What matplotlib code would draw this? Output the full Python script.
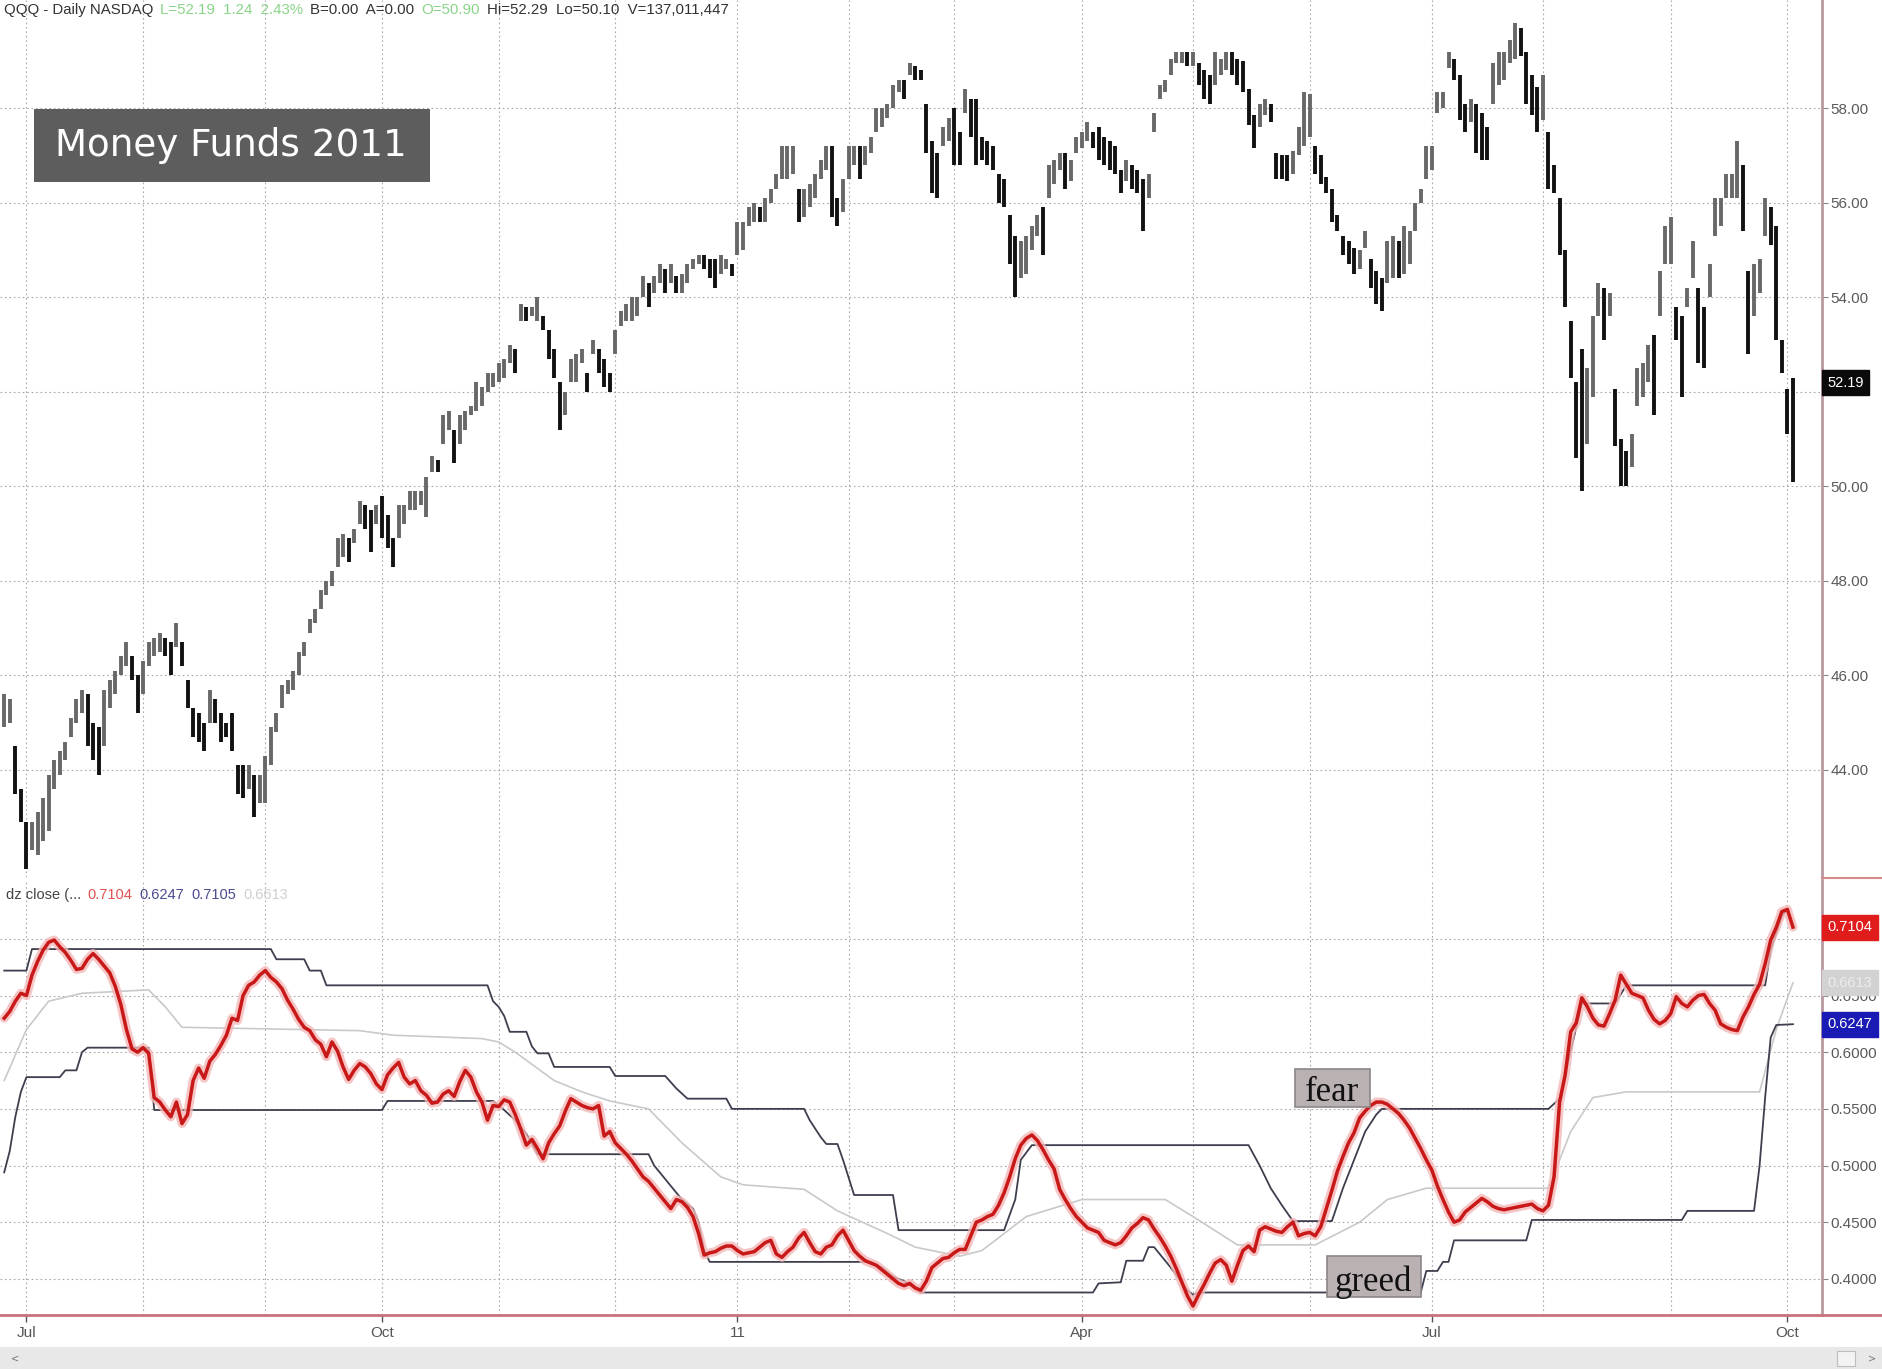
"""QQQ daily bars (Jun 2010 - Oct 2011) with the 'dz close' fear/greed panel."""
import numpy as np
import pandas as pd
import matplotlib

matplotlib.use("Agg")
import matplotlib.pyplot as plt  # noqa: E402
import matplotlib.transforms as mtransforms  # noqa: E402
from matplotlib import font_manager  # noqa: E402
from matplotlib.lines import Line2D  # noqa: E402
from matplotlib.patches import Rectangle  # noqa: E402

FIRST_DAY = "2010-06-25"
LAST_DAY = "2011-10-04"
HOLIDAYS = ["2010-07-05", "2010-09-06", "2010-11-25", "2010-12-24", "2011-01-17",
            "2011-02-21", "2011-04-22", "2011-05-30", "2011-07-04", "2011-09-05"]

# daily low / high, one value per trading day
PRICE_LO = [
    44.9, 45.0, 43.5, 42.9,
    # Jul 2010
    41.9, 42.3, 42.2, 42.5, 42.7, 43.6, 43.9, 44.2, 44.7, 45.0, 45.2, 44.5, 44.2, 43.9,
    44.5, 45.3, 45.6, 46.0, 46.2, 45.9, 45.2,
    # Aug
    45.6, 46.2, 46.4, 46.5, 46.4, 46.0, 46.6, 46.2, 45.3, 44.7, 44.6, 44.4, 45.0, 45.0,
    44.6, 44.7, 44.4, 43.5, 43.4, 43.6, 43.0, 43.3,
    # Sep
    43.3, 44.1, 44.8, 45.3, 45.6, 45.7, 46.0, 46.4, 46.9, 47.1, 47.4, 47.7, 47.9, 48.3,
    48.5, 48.4, 48.8, 49.2, 49.1, 48.6, 49.2,
    # Oct
    48.9, 48.7, 48.3, 48.9, 49.2, 49.5, 49.5, 49.6, 49.35, 50.3, 50.3, 50.9, 51.2, 50.5,
    50.9, 51.2, 51.5, 51.6, 51.7, 52.0, 52.1,
    # Nov
    52.2, 52.3, 52.6, 52.4, 53.5, 53.5, 53.6, 53.5, 53.3, 52.7, 52.3, 51.2, 51.5, 52.2,
    52.2, 52.6, 52.0, 52.8, 52.4, 52.1, 52.0,
    # Dec
    52.8, 53.4, 53.5, 53.5, 53.6, 54.0, 53.8, 54.1, 54.3, 54.1, 54.3, 54.1, 54.1, 54.3,
    54.6, 54.7, 54.6, 54.4, 54.2, 54.5, 54.6, 54.45,
    # Jan 2011
    54.9, 55.0, 55.5, 55.6, 55.6, 55.6, 56.0, 56.3, 56.5, 56.5, 56.6, 55.6, 55.7, 55.9,
    56.1, 56.5, 56.7, 55.7, 55.5, 55.8,
    # Feb
    56.5, 56.8, 56.5, 56.8, 57.05, 57.5, 57.6, 57.8, 58.0, 58.35, 58.2, 58.7, 58.6, 58.6,
    57.05, 56.2, 56.1, 57.2, 57.3,
    # Mar
    56.8, 56.8, 57.9, 57.4, 56.8, 56.9, 56.8, 56.7, 56.0, 55.9, 54.7, 54.0, 54.4, 54.5,
    55.0, 55.3, 54.9, 56.1, 56.4, 56.7, 56.3, 56.45, 57.05,
    # Apr
    57.15, 57.3, 57.15, 56.9, 56.8, 56.7, 56.6, 56.2, 56.45, 56.3, 56.2, 55.4, 56.1, 57.5,
    58.2, 58.35, 58.7, 58.95, 58.95, 58.9,
    # May
    58.9, 58.5, 58.2, 58.1, 58.5, 58.7, 58.8, 58.7, 58.5, 58.35, 57.65, 57.15, 57.6, 57.85,
    57.7, 56.5, 56.5, 56.45, 56.6, 57.0, 57.2,
    # Jun
    57.4, 56.6, 56.4, 56.2, 55.6, 55.4, 54.9, 54.7, 54.5, 54.6, 55.05, 54.2, 53.85, 53.7,
    54.3, 54.4, 54.4, 54.5, 54.7, 55.4, 56.0, 56.5,
    # Jul
    56.7, 57.9, 58.0, 58.85, 58.6, 57.75, 57.5, 57.7, 57.05, 56.9, 56.9, 58.1, 58.5, 58.6,
    58.95, 59.05, 59.1, 58.1, 57.85, 57.5,
    # Aug
    57.75, 56.3, 56.2, 54.9, 53.8, 52.3, 50.6, 49.9, 50.9, 51.9, 53.6, 53.1, 53.6, 50.85,
    50.0, 50.0, 50.4, 51.7, 51.9, 52.2, 51.5, 53.6, 54.7,
    # Sep
    54.7, 53.1, 51.9, 53.8, 54.4, 52.6, 52.5, 54.0, 55.3, 55.5, 56.1, 56.1, 56.1, 55.4,
    52.8, 53.6, 54.1, 55.3, 55.1, 53.1, 52.4,
    # Oct
    51.1, 50.10,
]
PRICE_HI = [
    45.6, 45.5, 44.5, 43.6,
    # Jul 2010
    42.9, 42.9, 43.1, 43.4, 43.9, 44.2, 44.4, 44.6, 45.1, 45.5, 45.7, 45.6, 45.0, 44.9,
    45.7, 45.9, 46.1, 46.4, 46.7, 46.4, 46.0,
    # Aug
    46.3, 46.7, 46.8, 46.9, 46.8, 46.7, 47.1, 46.7, 45.9, 45.3, 45.2, 45.0, 45.7, 45.5,
    45.2, 45.0, 45.2, 44.1, 44.1, 44.1, 43.9, 43.9,
    # Sep
    44.3, 44.9, 45.2, 45.8, 45.9, 46.1, 46.5, 46.7, 47.2, 47.4, 47.8, 48.0, 48.2, 48.9,
    49.0, 48.9, 49.1, 49.7, 49.6, 49.5, 49.6,
    # Oct
    49.8, 49.4, 48.9, 49.6, 49.6, 49.9, 49.9, 49.9, 50.2, 50.65, 50.55, 51.5, 51.6, 51.2,
    51.5, 51.6, 51.7, 52.2, 52.1, 52.4, 52.4,
    # Nov
    52.6, 52.7, 53.0, 52.9, 53.85, 53.8, 53.8, 54.0, 53.6, 53.3, 52.9, 52.2, 52.0, 52.7,
    52.8, 52.9, 52.4, 53.1, 52.9, 52.7, 52.4,
    # Dec
    53.3, 53.7, 53.85, 54.0, 54.0, 54.45, 54.3, 54.45, 54.7, 54.6, 54.7, 54.45, 54.5, 54.7,
    54.8, 54.9, 54.9, 54.8, 54.8, 54.9, 54.8, 54.7,
    # Jan 2011
    55.6, 55.6, 55.9, 56.0, 55.9, 56.1, 56.3, 56.6, 57.2, 57.2, 57.2, 56.3, 56.3, 56.4,
    56.6, 56.9, 57.2, 57.2, 56.1, 56.5,
    # Feb
    57.2, 57.2, 57.2, 57.2, 57.4, 58.0, 58.0, 58.1, 58.5, 58.6, 58.6, 58.95, 58.9, 58.8,
    58.1, 57.3, 57.05, 57.6, 57.8,
    # Mar
    58.0, 57.5, 58.4, 58.2, 58.2, 57.4, 57.3, 57.2, 56.6, 56.5, 55.75, 55.3, 55.2, 55.3,
    55.5, 55.75, 55.9, 56.8, 56.9, 57.05, 57.05, 56.9, 57.4,
    # Apr
    57.5, 57.7, 57.5, 57.6, 57.4, 57.3, 57.2, 56.7, 56.9, 56.8, 56.7, 56.5, 56.6, 57.9,
    58.5, 58.6, 59.05, 59.2, 59.2, 59.2,
    # May
    59.2, 58.95, 58.8, 58.7, 59.2, 59.05, 59.2, 59.2, 59.05, 59.0, 58.4, 57.85, 58.1, 58.2,
    58.1, 57.05, 57.0, 57.0, 57.1, 57.6, 58.35,
    # Jun
    58.3, 57.2, 57.0, 56.55, 56.3, 55.75, 55.3, 55.2, 55.05, 55.0, 55.4, 54.8, 54.55, 54.4,
    55.2, 55.3, 55.2, 55.5, 55.4, 56.0, 56.3, 57.2,
    # Jul
    57.2, 58.35, 58.35, 59.2, 59.05, 58.7, 58.1, 58.2, 58.1, 57.9, 57.6, 58.95, 59.2, 59.2,
    59.45, 59.8, 59.7, 59.2, 58.7, 58.45,
    # Aug
    58.7, 57.5, 56.8, 56.1, 55.0, 53.5, 52.2, 52.9, 52.5, 53.6, 54.3, 54.2, 54.1, 52.05,
    51.0, 50.75, 51.1, 52.5, 52.6, 53.0, 53.2, 54.55, 55.5,
    # Sep
    55.7, 53.8, 53.6, 54.2, 55.2, 54.2, 53.8, 54.7, 56.1, 56.1, 56.6, 56.6, 57.3, 56.8,
    54.55, 54.7, 54.8, 56.1, 55.9, 55.5, 53.1,
    # Oct
    52.05, 52.29,
]
LAST_PRICE = 52.19
PRICE_TICKS = [44, 46, 48, 50, 52, 54, 56, 58]

# dz close, one value per trading day
DZ_CLOSE = [
    0.630, 0.636, 0.645, 0.652, 0.650, 0.668, 0.680, 0.690, 0.697, 0.699,
    0.693, 0.688, 0.681, 0.673, 0.674, 0.682, 0.687, 0.682, 0.676, 0.670,
    0.658, 0.642, 0.620, 0.603, 0.600, 0.604, 0.599, 0.560, 0.556, 0.549,
    0.543, 0.556, 0.537, 0.545, 0.575, 0.586, 0.577, 0.592, 0.598, 0.606,
    0.615, 0.630, 0.628, 0.650, 0.659, 0.662, 0.668, 0.672, 0.666, 0.662,
    0.656, 0.646, 0.638, 0.629, 0.622, 0.619, 0.611, 0.607, 0.596, 0.609,
    0.601, 0.587, 0.576, 0.584, 0.590, 0.587, 0.581, 0.572, 0.567, 0.580,
    0.586, 0.591, 0.578, 0.572, 0.575, 0.566, 0.562, 0.555, 0.556, 0.563,
    0.566, 0.561, 0.574, 0.584, 0.578, 0.565, 0.556, 0.540, 0.553, 0.552,
    0.558, 0.556, 0.545, 0.532, 0.518, 0.523, 0.515, 0.506, 0.520, 0.528,
    0.535, 0.548, 0.559, 0.556, 0.553, 0.551, 0.550, 0.553, 0.526, 0.530,
    0.520, 0.515, 0.510, 0.504, 0.497, 0.490, 0.486, 0.480, 0.474, 0.468,
    0.462, 0.470, 0.468, 0.463, 0.455, 0.440, 0.421, 0.423, 0.424, 0.427,
    0.429, 0.429, 0.425, 0.422, 0.423, 0.424, 0.428, 0.432, 0.434, 0.422,
    0.419, 0.424, 0.428, 0.436, 0.441, 0.432, 0.424, 0.422, 0.428, 0.430,
    0.438, 0.443, 0.434, 0.425, 0.420, 0.416, 0.414, 0.412, 0.408, 0.404,
    0.400, 0.396, 0.394, 0.396, 0.392, 0.390, 0.398, 0.410, 0.414, 0.418,
    0.419, 0.423, 0.426, 0.426, 0.438, 0.450, 0.452, 0.455, 0.457, 0.465,
    0.476, 0.490, 0.506, 0.518, 0.524, 0.527, 0.522, 0.514, 0.505, 0.497,
    0.479, 0.470, 0.462, 0.455, 0.450, 0.445, 0.443, 0.441, 0.434, 0.432,
    0.430, 0.432, 0.438, 0.445, 0.449, 0.454, 0.452, 0.444, 0.437, 0.429,
    0.420, 0.409, 0.397, 0.385, 0.376, 0.386, 0.395, 0.405, 0.414, 0.417,
    0.412, 0.398, 0.412, 0.425, 0.429, 0.424, 0.443, 0.446, 0.444, 0.442,
    0.441, 0.446, 0.450, 0.438, 0.440, 0.441, 0.438, 0.446, 0.462, 0.478,
    0.495, 0.508, 0.520, 0.529, 0.542, 0.548, 0.553, 0.556, 0.556, 0.554,
    0.550, 0.546, 0.540, 0.533, 0.524, 0.515, 0.505, 0.496, 0.482, 0.470,
    0.459, 0.450, 0.452, 0.459, 0.463, 0.467, 0.471, 0.468, 0.464, 0.462,
    0.461, 0.462, 0.463, 0.464, 0.465, 0.466, 0.462, 0.460, 0.465, 0.490,
    0.556, 0.580, 0.618, 0.626, 0.648, 0.640, 0.630, 0.624, 0.623, 0.634,
    0.646, 0.668, 0.660, 0.652, 0.650, 0.648, 0.637, 0.629, 0.625, 0.628,
    0.634, 0.649, 0.643, 0.640, 0.646, 0.650, 0.651, 0.643, 0.637, 0.625,
    0.622, 0.620, 0.619, 0.631, 0.640, 0.651, 0.660, 0.678, 0.699, 0.710,
    0.724, 0.726, 0.7104,
]

# channel lines, given as (bar number, value) break points
UPPER_BARS = [0, 4, 5, 48, 49, 54, 55, 57, 58, 87, 88, 89, 90, 91, 94, 95, 96, 98, 99, 109,
              110, 119, 121, 123, 130, 131, 144, 145, 147, 148, 150, 151, 153, 160, 161, 180,
              182, 183, 185, 224, 226, 228, 230, 232, 239, 241, 243, 245, 247, 248, 278, 280,
              282, 284, 290, 292, 317, 318, 319, 320, 321, 322]
UPPER_VALS = [0.672, 0.672, 0.691, 0.691, 0.682, 0.682, 0.672, 0.672, 0.659, 0.659, 0.645,
              0.640, 0.632, 0.618, 0.618, 0.605, 0.599, 0.599, 0.587, 0.587, 0.579, 0.579,
              0.568, 0.559, 0.559, 0.550, 0.550, 0.540, 0.525, 0.519, 0.519, 0.505, 0.474,
              0.474, 0.443, 0.443, 0.470, 0.505, 0.518, 0.518, 0.500, 0.480, 0.465, 0.451,
              0.451, 0.480, 0.505, 0.530, 0.545, 0.550, 0.550, 0.559, 0.601, 0.643, 0.643,
              0.659, 0.659, 0.690, 0.705, 0.720, 0.726, 0.7105]
LOWER_BARS = [0, 1, 2, 3, 4, 10, 11, 13, 14, 15, 26, 27, 68, 69, 88, 90, 92, 94, 96, 116,
              117, 119, 122, 124, 125, 126, 127, 156, 158, 160, 162, 165, 196, 197, 201, 202,
              205, 206, 207, 210, 213, 214, 215, 255, 256, 258, 259, 260, 261, 274, 275, 302,
              303, 315, 316, 317, 318, 319, 322]
LOWER_VALS = [0.494, 0.513, 0.543, 0.565, 0.578, 0.578, 0.584, 0.584, 0.600, 0.604, 0.604,
              0.549, 0.549, 0.557, 0.557, 0.549, 0.540, 0.528, 0.510, 0.510, 0.500, 0.488,
              0.470, 0.462, 0.450, 0.425, 0.415, 0.415, 0.410, 0.402, 0.398, 0.388, 0.388,
              0.396, 0.397, 0.416, 0.416, 0.428, 0.428, 0.410, 0.390, 0.386, 0.388, 0.388,
              0.407, 0.407, 0.415, 0.415, 0.434, 0.434, 0.452, 0.452, 0.460, 0.460, 0.500,
              0.560, 0.613, 0.624, 0.6247]
MID_BARS = [0, 4, 8, 14, 26, 29, 32, 64, 70, 86, 89, 92, 99, 104, 109, 116, 122, 129, 133,
            144, 150, 159, 164, 172, 176, 180, 184, 194, 209, 214, 222, 236, 244, 249, 256,
            278, 282, 286, 292, 316, 319, 322]
MID_VALS = [0.575, 0.620, 0.645, 0.652, 0.655, 0.640, 0.622, 0.619, 0.615, 0.612, 0.609,
            0.600, 0.575, 0.565, 0.557, 0.550, 0.520, 0.490, 0.483, 0.479, 0.460, 0.440,
            0.428, 0.420, 0.425, 0.440, 0.455, 0.470, 0.470, 0.455, 0.430, 0.430, 0.450,
            0.470, 0.480, 0.480, 0.530, 0.560, 0.565, 0.565, 0.620, 0.6613]
DZ_TICKS = [0.40, 0.45, 0.50, 0.55, 0.60, 0.65, 0.70]
DZ_LAST = {"dz": 0.7104, "lower": 0.6247, "upper": 0.7105, "mid": 0.6613}

QUARTER_LABELS = {(2010, 7): "Jul", (2010, 10): "Oct", (2011, 1): "11",
                  (2011, 4): "Apr", (2011, 7): "Jul", (2011, 10): "Oct"}

GRID = dict(color="#a9a9a9", lw=0.8, ls=(0, (1.5, 2.5)), zorder=0)
RED = "#c81818"
BAND = "#3e3e4e"
AXIS_PINK = "#b9979f"


def pick_font(*names):
    have = {f.name for f in font_manager.fontManager.ttflist}
    for n in names:
        if n in have:
            return n
    return "DejaVu Sans"


NARROW = pick_font("Liberation Sans Narrow", "Liberation Sans")
SERIF = pick_font("Liberation Serif", "DejaVu Serif")


def trading_days():
    days = pd.bdate_range(FIRST_DAY, LAST_DAY)
    return days[~days.isin(pd.to_datetime(HOLIDAYS))]


def chain_text(ax, x, y, parts, size):
    t = ax.figure.text(x, y, parts[0][0], color=parts[0][1], fontsize=size,
                       family=NARROW, ha="left", va="center")
    for s, c in parts[1:]:
        t = ax.annotate(s, xy=(1, 0.5), xycoords=t, xytext=(5, 0),
                        textcoords="offset points", ha="left", va="center",
                        color=c, fontsize=size, family=NARROW)


def value_box(ax, y, text, fc, tc):
    tr = mtransforms.blended_transform_factory(ax.transAxes, ax.transData)
    ax.text(1.003, y, text, transform=tr, ha="left", va="center", color=tc,
            fontsize=10.5, family=NARROW, clip_on=False, zorder=10,
            bbox=dict(boxstyle="square,pad=0.38", fc=fc, ec=fc))


def right_labels(ax, ticks, fmt, covered, tol):
    # labels sitting under a last-value box are hidden by it in the original
    ax.set_yticks(ticks)
    ax.set_yticklabels(["" if any(abs(t - c) < tol for c in covered) else fmt.format(t)
                        for t in ticks])


def main() -> None:
    days = trading_days()
    lo = np.array(PRICE_LO)
    hi = np.array(PRICE_HI)
    dz = np.array(DZ_CLOSE)
    bars = np.arange(len(lo))
    months = [i for i in range(1, len(days)) if days[i].month != days[i - 1].month]

    fig = plt.figure(figsize=(18.83, 13.69), dpi=100)
    ax1 = fig.add_axes([0.0, 0.3596, 0.9675, 0.6404])
    ax2 = fig.add_axes([0.0, 0.0395, 0.9675, 0.3175])
    xlim = (-0.76, 327.2)

    # price panel
    mid = (lo + hi) / 2
    up = np.r_[True, mid[1:] >= mid[:-1]]
    colors = np.where(up, "#686868", "#121212")
    ax1.vlines(bars, lo, hi, colors=colors, lw=2.8, zorder=3)
    ax1.set_xlim(*xlim)
    ax1.set_ylim(41.74, 60.29)
    for m in months:
        ax1.axvline(m, **GRID)
    for p in PRICE_TICKS:
        ax1.axhline(p, **GRID)
    ax1.set_xticks([])
    ax1.yaxis.tick_right()
    right_labels(ax1, PRICE_TICKS, "{:.2f}", [LAST_PRICE], 0.4)
    value_box(ax1, LAST_PRICE, f"{LAST_PRICE:.2f}", "#0a0a0a", "white")

    # dz close panel
    ax2.plot(MID_BARS, MID_VALS, color="#c9c9c9", lw=1.2, zorder=2)
    ax2.plot(UPPER_BARS, UPPER_VALS, color=BAND, lw=1.3, zorder=3)
    ax2.plot(LOWER_BARS, LOWER_VALS, color=BAND, lw=1.3, zorder=3)
    ax2.plot(bars[:len(dz)], dz, color="#f4b8b8", lw=6.5, alpha=0.8, zorder=4,
             solid_capstyle="round", solid_joinstyle="round")
    ax2.plot(bars[:len(dz)], dz, color=RED, lw=2.5, zorder=5,
             solid_joinstyle="round")
    ax2.set_xlim(*xlim)
    ax2.set_ylim(0.3682, 0.7517)
    for m in months:
        ax2.axvline(m, **GRID)
    for v in DZ_TICKS:
        ax2.axhline(v, **GRID)
    ax2.yaxis.tick_right()
    right_labels(ax2, DZ_TICKS, "{:.4f}", [DZ_LAST["dz"]], 0.015)
    qt = [m for m in months if (days[m].year, days[m].month) in QUARTER_LABELS]
    ax2.set_xticks(qt)
    ax2.set_xticklabels([QUARTER_LABELS[(days[m].year, days[m].month)] for m in qt])
    value_box(ax2, DZ_LAST["mid"], f"{DZ_LAST['mid']:.4f}", "#d2d2d2", "#ececec")
    value_box(ax2, DZ_LAST["lower"], f"{DZ_LAST['lower']:.4f}", "#1a1ab4", "white")
    value_box(ax2, DZ_LAST["dz"], f"{DZ_LAST['dz']:.4f}", "#e01c1c", "white")

    # fear / greed tags
    ax2.add_patch(Rectangle((232.3, 0.5515), 13.6, 0.0339, fc="#bab1b3",
                            ec="#8e8587", lw=1.2, zorder=7))
    ax2.text(239.1, 0.5570, "fear", ha="center", va="baseline", fontsize=25,
             family=SERIF, color="#111", zorder=8)
    ax2.add_patch(Rectangle((238.2, 0.3841), 16.8, 0.0360, fc="#bab1b3",
                            ec="#8e8587", lw=1.2, zorder=7))
    ax2.text(246.4, 0.3894, "greed", ha="center", va="baseline", fontsize=25,
             family=SERIF, color="#111", zorder=8)

    for ax in (ax1, ax2):
        for side in ("left", "top", "bottom"):
            ax.spines[side].set_visible(False)
        ax.spines["right"].set_color(AXIS_PINK)
        ax.spines["right"].set_linewidth(2)
        ax.tick_params(axis="y", length=4, width=0.8, color="#888", pad=2,
                       labelsize=11, labelcolor="#5a5a5a")
        for lab in ax.get_yticklabels():
            lab.set_family(NARROW)
    ax2.tick_params(axis="x", length=5, width=1, color="#555", pad=3,
                    labelsize=11, labelcolor="#555")
    for lab in ax2.get_xticklabels():
        lab.set_family(NARROW)

    # frame lines, scroll bar
    fig.add_artist(Line2D([0, 1], [0.0395, 0.0395], color="#c8727c", lw=2))
    fig.add_artist(Line2D([0.9675, 1], [0.3588, 0.3588], color="#d58a8a", lw=1.5))
    fig.add_artist(Rectangle((0, 0), 1, 0.0158, fc="#e8e8e8", ec="none"))
    fig.add_artist(Rectangle((0.9758, 0.0025), 0.0095, 0.0108, fc="#f3f3f3",
                             ec="#bdbdbd", lw=0.8))
    fig.text(0.006, 0.008, "<", fontsize=7, color="#777", va="center")
    fig.text(0.992, 0.008, ">", fontsize=7, color="#777", va="center")

    # headers
    green = "#8ad48a"
    chain_text(ax1, 0.002, 0.9928,
               [("QQQ - Daily NASDAQ", "#333"), ("L=52.19  1.24  2.43%", green),
                ("B=0.00  A=0.00", "#333"), ("O=50.90", green),
                ("Hi=52.29  Lo=50.10  V=137,011,447", "#333")], 10.8)
    chain_text(ax2, 0.003, 0.3465,
               [("dz close (...", "#444"), (f"{DZ_LAST['dz']:.4f}", "#e05050"),
                (f"{DZ_LAST['lower']:.4f}", "#4a4a90"), (f"{DZ_LAST['upper']:.4f}", "#4a4a90"),
                (f"{DZ_LAST['mid']:.4f}", "#cfcfcf")], 10.5)

    # title tag
    fig.add_artist(Rectangle((0.0179, 0.8667), 0.2105, 0.0535, fc="#5d5d5d", ec="none"))
    fig.text(0.0293, 0.8939, "Money Funds 2011", color="white", fontsize=26.8,
             family="DejaVu Sans", ha="left", va="center")

    fig.savefig("out.png", dpi=100, facecolor="white")
    plt.close(fig)


if __name__ == "__main__":
    main()
